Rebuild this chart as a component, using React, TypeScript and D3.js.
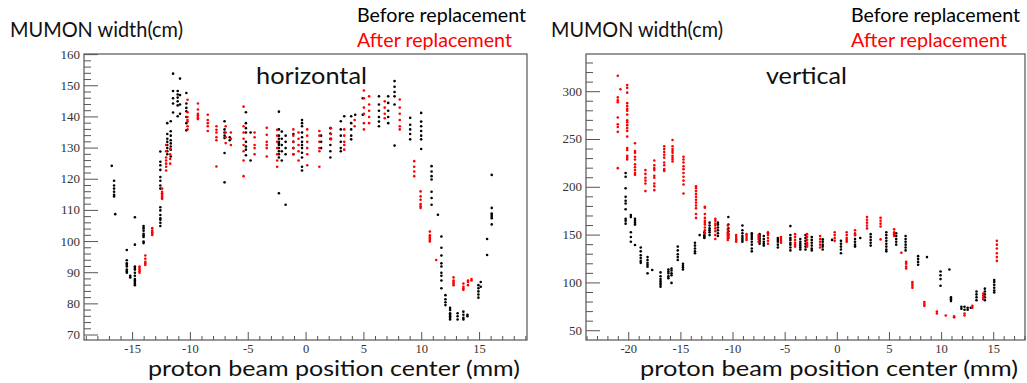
import React from "react";
import * as d3 from "d3";

// ---------- DATA (mm, MUMON width in cm) ----------
// Each entry: [beam position center (mm), widths measured at that position]
const hBefore: [number, number[]][] = [
  [-16.8, [124.3]],
  [-16.6, [119.5, 118, 117, 116, 115, 114.5]],
  [-16.5, [108.8]],
  [-15.5, [97.3, 94, 93, 92.5, 92, 91, 90.5, 90]],
  [-15.2, [89, 88.5]],
  [-14.8, [107.8, 99, 92, 91.5, 91, 90, 89, 88, 87.5, 87, 86.5, 86]],
  [-14.05, [105, 104.3, 103.5, 102.5, 102, 101.5, 100, 99.5]],
  [-12.6, [128.9, 125.6, 124.5, 123, 120.7, 119.5, 118, 117, 111, 110, 108.5, 107.5, 107, 106, 105]],
  [-12.0, [138, 134.5, 133, 132, 131, 130, 129, 128]],
  [-11.7, [138.6, 135.4, 134, 132.5, 131.5, 130.5, 129.5, 127.3]],
  [-11.5, [153.9, 148.3, 146, 144.3, 141.4]],
  [-11.1, [148.3, 147.2, 146.2, 145, 143.7, 140.2]],
  [-10.9, [152.3, 147, 144, 141]],
  [-10.35, [147.7, 144.3, 142.9, 141.8, 140, 138, 135.7]],
  [-7.05, [138.6, 136, 135, 134, 133.2, 128.4, 119]],
  [-6.6, [133.5, 132.5]],
  [-5.2, [141.5, 138, 136.4, 135, 132, 130.5, 129.5, 127.7]],
  [-4.8, [135, 126]],
  [-2.35, [141.7, 136, 134, 133, 132, 131.5, 131, 130, 129, 128, 127, 115.5]],
  [-2.1, [135.3, 133, 131, 129, 126]],
  [-1.77, [134, 132, 130, 128, 111.8]],
  [-1.1, [134.5, 132, 130, 128]],
  [-0.35, [139, 138, 137, 135, 133.5, 132, 131, 130, 128.5, 127, 124, 122.8]],
  [1.3, [134, 132, 130]],
  [2.1, [136.4, 134.7, 133, 131, 129, 127]],
  [3.0, [138.6, 136, 134, 132, 130, 129]],
  [3.3, [140.2]],
  [3.9, [140.2, 138, 136, 134, 132.8]],
  [4.25, [140.7]],
  [4.9, [146, 140.7]],
  [6.3, [146.6, 144, 142, 140, 138.5, 137]],
  [7.1, [146.6, 144.5, 142, 140, 138]],
  [7.65, [151.5, 149.7, 148, 146.6, 144, 130.8]],
  [9.0, [139.7, 137.5, 136, 134.5, 132.8]],
  [9.95, [141.3, 138.5, 137, 135.5, 134, 132.8, 129.7]],
  [10.85, [124.2, 122.5, 121, 119.9, 116, 114, 111.8]],
  [11.4, [108.6]],
  [11.7, [101.6, 98, 95.5, 93, 92, 90, 89, 87.5, 85]],
  [12.05, [82.8, 81.5, 80.5, 79.6]],
  [12.45, [78.7, 78, 77, 76.5, 76, 75.5, 75]],
  [13.1, [77, 76, 75]],
  [13.6, [77.5, 76.5, 75.5, 75]],
  [13.95, [76.5, 76]],
  [14.9, [86, 85, 84, 83, 82]],
  [15.1, [87, 85.5]],
  [15.65, [100.8, 95.7]],
  [16.05, [121.4, 110.8, 109, 108.5, 108, 107.5, 105.5]],
];

const hAfter: [number, number[]][] = [
  [-14.4, [92, 91.5, 91, 90.5, 90]],
  [-13.9, [95.5, 94.5, 93.5, 93, 92.5]],
  [-13.3, [104.3, 103.5, 103, 102.5, 102.1]],
  [-12.45, [117, 116, 115.5, 115, 114.5, 114, 113.7]],
  [-12.1, [131, 129, 127, 126, 125, 124, 122.8]],
  [-11.75, [129.7, 128, 126.5, 125]],
  [-10.25, [145.5, 141.5, 140, 139, 138.5, 137, 136]],
  [-9.35, [144.3, 142.4, 141, 140.5, 140, 139.5, 139.3]],
  [-8.5, [140.7, 139, 138, 137, 135.5]],
  [-7.75, [137, 135.9, 135, 133.5, 132.5, 124.1]],
  [-6.95, [137, 135, 133.5, 131.6]],
  [-6.5, [135, 133, 131]],
  [-5.4, [143.3, 137, 135, 133, 131, 129, 126, 121]],
  [-4.45, [135, 133.5, 131, 130, 128]],
  [-3.4, [136.5, 134.3, 132, 131, 130, 127.3]],
  [-2.5, [135.9, 134, 132, 130, 128, 126, 124]],
  [-1.1, [136, 134, 132, 130, 128]],
  [-0.65, [135, 133, 131, 129, 126]],
  [0.1, [136, 134, 132, 130, 128, 124.5]],
  [1.15, [135.5, 134, 132, 130, 129, 124]],
  [2.15, [136.4, 134.5, 133, 132.8]],
  [3.3, [136, 134, 132, 131, 129.5]],
  [4.2, [139, 137]],
  [5.0, [148.5, 146, 143, 141, 138, 136]],
  [5.45, [146.6, 144, 142, 140, 138]],
  [6.8, [145, 143, 141, 139.6]],
  [8.1, [145.6, 143, 141, 139, 137, 136]],
  [9.35, [125.8, 124, 122.5, 121]],
  [9.9, [116.1, 114.5, 113.4, 112, 111.3, 110.8]],
  [10.7, [103.2, 102, 101.5, 101, 100.5, 100]],
  [11.25, [94.1]],
  [12.75, [88.5, 87.5, 87, 86.5, 86]],
  [13.6, [86.5, 85.5, 85, 84.5]],
  [14.0, [87.5, 87, 86]],
  [14.3, [88, 87.5]],
];

const vBefore: [number, number[]][] = [
  [-20.3, [215, 211, 199, 190, 186, 183, 177, 167, 165, 162]],
  [-19.8, [171, 169, 153, 148, 143]],
  [-19.4, [167, 165, 163, 161, 139.7]],
  [-18.85, [137, 133, 129, 126, 123, 121]],
  [-18.2, [127, 124, 121, 119, 117, 110]],
  [-17.75, [113.5]],
  [-16.95, [111, 107, 104, 102, 100, 98, 96]],
  [-16.2, [114, 112, 110, 107, 105]],
  [-15.9, [115, 113, 110, 108, 100]],
  [-15.3, [138, 134, 130, 127, 124]],
  [-14.8, [120, 118, 116, 114]],
  [-13.65, [142, 139, 136, 133, 131]],
  [-13.2, [150]],
  [-12.75, [153, 150, 149, 148, 147]],
  [-12.25, [163, 160, 157, 155, 153, 150]],
  [-11.45, [163, 161, 158, 155, 152, 149]],
  [-10.45, [169, 161, 157, 154, 151, 149, 147]],
  [-9.1, [160, 155, 152, 149, 147, 145, 143]],
  [-8.2, [152, 150, 148, 146, 143, 140, 136, 133]],
  [-7.45, [151, 149, 147, 145, 143, 141]],
  [-7.05, [149, 146, 143, 141, 139]],
  [-5.7, [147, 145, 143, 140, 137]],
  [-4.5, [159.4, 150, 147, 145, 142, 140, 137, 134]],
  [-3.55, [146, 143, 141, 139, 137, 135]],
  [-3.05, [150, 147, 144, 141, 138, 135]],
  [-2.45, [148, 145, 142, 139, 136, 134]],
  [-1.4, [145.5, 143, 140, 138, 135]],
  [-0.5, [145]],
  [0.35, [144, 141, 138, 135, 131]],
  [1.7, [150, 146, 143, 140, 138]],
  [2.2, [147]],
  [3.2, [151, 148, 145, 142, 139]],
  [4.7, [153, 150, 147, 144, 141, 138, 135, 133]],
  [5.65, [152, 149, 146, 143, 140]],
  [6.55, [149, 146, 143, 140, 137, 134]],
  [7.75, [128, 125, 122, 119]],
  [8.6, [127]],
  [9.9, [112, 108, 104, 97]],
  [10.75, [114]],
  [10.9, [85, 83, 81]],
  [11.9, [75, 73]],
  [12.2, [75, 72]],
  [12.5, [74, 72]],
  [12.8, [74]],
  [13.35, [91, 88, 85, 82]],
  [14.15, [94, 91, 88, 85, 82]],
  [15.05, [103, 101, 98, 95, 92, 90]],
];

const vAfter: [number, number[]][] = [
  [-21.05, [316.7, 294, 291, 289, 273, 266, 263, 258, 220]],
  [-20.8, [302.5]],
  [-20.15, [307, 304, 299, 288, 285, 282, 280, 276, 270, 268, 265, 262, 259, 253, 241, 239, 233, 231, 229]],
  [-19.4, [246, 238, 236, 232, 229, 224, 221, 218, 215, 213]],
  [-18.4, [218, 214, 210, 207, 204, 196]],
  [-17.55, [228, 223, 220, 218, 212, 210, 204, 201, 197]],
  [-16.6, [243, 240, 237, 234, 231, 226, 223, 219, 217]],
  [-15.8, [249.5, 243, 240, 238, 236, 233, 231, 229, 227]],
  [-14.75, [232, 229, 226, 222, 219, 215, 211, 207, 203, 193.5]],
  [-13.55, [201, 199, 196, 193, 190, 187, 184, 181, 178, 172, 168]],
  [-12.7, [179.7, 178.7, 172, 168, 165, 163, 161, 158, 155, 152]],
  [-11.7, [167, 165, 162, 160, 157, 154, 150, 146]],
  [-10.5, [160, 156, 153, 151, 149, 147, 145]],
  [-9.7, [150, 148, 146, 145, 143]],
  [-8.7, [151, 149, 147, 145]],
  [-7.55, [150, 148, 146, 143]],
  [-6.65, [153, 152, 150, 147, 144, 141]],
  [-5.4, [148, 146, 144, 142]],
  [-4.05, [151, 148, 145, 142, 140, 138]],
  [-2.9, [151, 148, 145, 142, 140, 138]],
  [-1.65, [149, 146, 143, 140, 137]],
  [-0.25, [153, 150, 147, 144]],
  [0.9, [153, 150, 147, 145, 143]],
  [1.7, [155, 152, 150]],
  [2.85, [169, 166, 163, 160, 157]],
  [4.15, [168, 165, 162, 159, 145.5]],
  [5.45, [156, 153, 151, 149]],
  [6.15, [131.5]],
  [6.6, [122, 120, 117, 115]],
  [7.2, [101, 99, 97, 95]],
  [8.35, [80, 78, 76]],
  [9.55, [70, 68]],
  [10.4, [66]],
  [11.2, [65, 64]],
  [12.2, [68, 66]],
  [12.95, [76, 74]],
  [14.0, [89, 87, 85, 83]],
  [15.3, [144, 140, 136, 131, 127, 123]],
];

// tick labels / steps
const hXMajor = [-15, -10, -5, 0, 5, 10, 15];
const hYMajor = [70, 80, 90, 100, 110, 120, 130, 140, 150, 160];
const vXMajor = [-20, -15, -10, -5, 0, 5, 10, 15];
const vYMajor = [50, 100, 150, 200, 250, 300];

const legendLabels = ["Before replacement", "After replacement"];
const seriesColors = ["#000000", "#ff0000"];
const yTitle = "MUMON width(cm)";
const xTitle = "proton beam position center (mm)";

type PanelProps = {
  x0: number; x1: number; y0: number; y1: number;
  xDomain: [number, number]; yDomain: [number, number];
  xMajor: number[]; yMajor: number[]; yMinorStep: number;
  before: [number, number[]][]; after: [number, number[]][];
  name: string; nameX: number; nameLen: number;
  titleX: number; titleLen: number;
  legendX: number; legendLens: [number, number];
  xTitleX: number; xTitleLen: number;
};

const sansFont = "Lato, 'Open Sans', 'DejaVu Sans', sans-serif";
const serifFont = "'Liberation Serif', 'DejaVu Serif', serif";

function Panel(p: PanelProps) {
  const x = d3.scaleLinear().domain(p.xDomain).range([p.x0, p.x1]);
  const y = d3.scaleLinear().domain(p.yDomain).range([p.y1, p.y0]);
  const xMinor = d3.range(Math.ceil(p.xDomain[0]), Math.floor(p.xDomain[1]) + 1, 1)
    .filter((v) => !p.xMajor.includes(v));
  const yMinor = d3.range(Math.ceil(p.yDomain[0] / p.yMinorStep) * p.yMinorStep, p.yDomain[1], p.yMinorStep)
    .filter((v) => !p.yMajor.includes(v));
  const axisColor = "#555";
  const pts = (data: [number, number[]][]) =>
    data.flatMap(([mx, ys]) => ys.map((v) => [mx, v] as [number, number]));
  return (
    <g>
      {/* titles */}
      <text x={p.titleX} y={37} fontFamily={sansFont} fontSize={22} fill="#111"
        textLength={p.titleLen} lengthAdjust="spacingAndGlyphs">{yTitle}</text>
      <text x={p.legendX} y={22} fontFamily={sansFont} fontSize={19} fill={seriesColors[0]}
        textLength={p.legendLens[0]} lengthAdjust="spacingAndGlyphs">{legendLabels[0]}</text>
      <text x={p.legendX} y={46.5} fontFamily={sansFont} fontSize={19} fill={seriesColors[1]}
        textLength={p.legendLens[1]} lengthAdjust="spacingAndGlyphs">{legendLabels[1]}</text>
      {/* frame */}
      <rect x={p.x0} y={p.y0} width={p.x1 - p.x0} height={p.y1 - p.y0}
        fill="#fff" stroke={axisColor} strokeWidth={1.2} />
      {/* x ticks */}
      {p.xMajor.map((v) => (
        <g key={"xm" + v}>
          <line x1={x(v)} x2={x(v)} y1={p.y1} y2={p.y1 - 8} stroke={axisColor} strokeWidth={1} />
          <text x={x(v)} y={353} textAnchor="middle" fontFamily={serifFont} fontSize={12.5} fill="#333">{v}</text>
        </g>
      ))}
      {xMinor.map((v) => (
        <line key={"xn" + v} x1={x(v)} x2={x(v)} y1={p.y1} y2={p.y1 - 4} stroke={axisColor} strokeWidth={1} />
      ))}
      {/* y ticks */}
      {p.yMajor.map((v) => (
        <g key={"ym" + v}>
          <line x1={p.x0} x2={p.x0 + 14} y1={y(v)} y2={y(v)} stroke={axisColor} strokeWidth={1} />
          <text x={p.x0 - 4} y={y(v) + 4} textAnchor="end" fontFamily={serifFont} fontSize={13} fill="#333">{v}</text>
        </g>
      ))}
      {yMinor.map((v) => (
        <line key={"yn" + v} x1={p.x0} x2={p.x0 + 7} y1={y(v)} y2={y(v)} stroke={axisColor} strokeWidth={1} />
      ))}
      {/* name */}
      <text x={p.nameX} y={83.5} fontFamily={sansFont} fontSize={23} fill="#111"
        textLength={p.nameLen} lengthAdjust="spacingAndGlyphs">{p.name}</text>
      {/* points */}
      {pts(p.before).map(([mx, v], i) => (
        <circle key={"b" + i} cx={x(mx)} cy={y(v)} r={1.3} fill={seriesColors[0]} />
      ))}
      {pts(p.after).map(([mx, v], i) => (
        <circle key={"a" + i} cx={x(mx)} cy={y(v)} r={1.3} fill={seriesColors[1]} />
      ))}
      {/* x title */}
      <text x={p.xTitleX} y={376} fontFamily={sansFont} fontSize={22} fill="#111"
        textLength={p.xTitleLen} lengthAdjust="spacingAndGlyphs">{xTitle}</text>
    </g>
  );
}

export default function App() {
  return (
    <div style={{ position: "fixed", left: 0, top: 0, background: "#fff" }}>
      <svg width={1027} height={383} style={{ display: "block" }}>
        <rect x={0} y={0} width={1027} height={383} fill="#fff" />
        <Panel x0={84} x1={527} y0={54} y1={340}
          xDomain={[-19.2, 19.1]} yDomain={[68.4, 160.2]}
          xMajor={hXMajor} yMajor={hYMajor} yMinorStep={2}
          before={hBefore} after={hAfter}
          name="horizontal" nameX={256} nameLen={111}
          titleX={10} titleLen={173}
          legendX={357} legendLens={[169, 155]}
          xTitleX={148} xTitleLen={372} />
        <Panel x0={586} x1={1025} y0={54} y1={340}
          xDomain={[-24.1, 18.0]} yDomain={[40.3, 339.4]}
          xMajor={vXMajor} yMajor={vYMajor} yMinorStep={10}
          before={vBefore} after={vAfter}
          name="vertical" nameX={766} nameLen={81}
          titleX={551} titleLen={172}
          legendX={851} legendLens={[169, 156]}
          xTitleX={640} xTitleLen={378} />
      </svg>
    </div>
  );
}
